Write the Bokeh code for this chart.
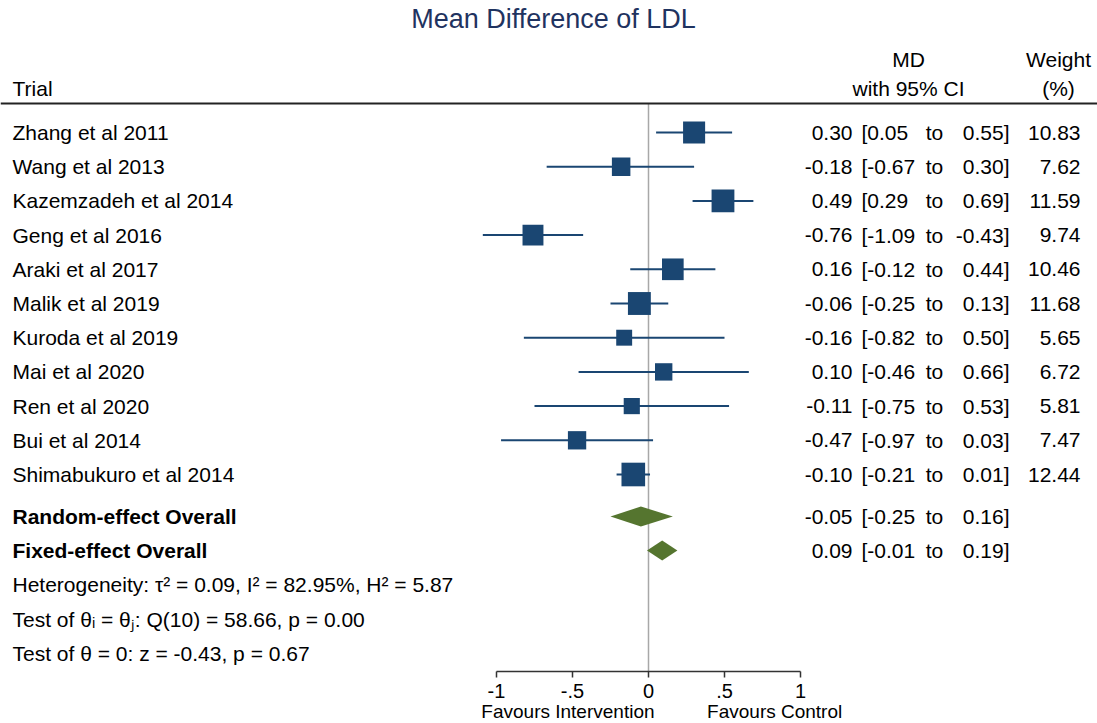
from bokeh.plotting import figure
from bokeh.models import Range1d, FixedTicker, Span, ColumnDataSource, LinearAxis
from bokeh.core.properties import value
from bokeh.embed import file_html
from bokeh.resources import INLINE

# ---------------- data ----------------
trials = ["Zhang et al 2011", "Wang et al 2013", "Kazemzadeh et al 2014", "Geng et al 2016",
          "Araki et al 2017", "Malik et al 2019", "Kuroda et al 2019", "Mai et al 2020",
          "Ren et al 2020", "Bui et al 2014", "Shimabukuro et al 2014"]
md = [0.30, -0.18, 0.49, -0.76, 0.16, -0.06, -0.16, 0.10, -0.11, -0.47, -0.10]
ci_lo = [0.05, -0.67, 0.29, -1.09, -0.12, -0.25, -0.82, -0.46, -0.75, -0.97, -0.21]
ci_hi = [0.55, 0.30, 0.69, -0.43, 0.44, 0.13, 0.50, 0.66, 0.53, 0.03, 0.01]
weight = [10.83, 7.62, 11.59, 9.74, 10.46, 11.68, 5.65, 6.72, 5.81, 7.47, 12.44]

overall_labels = ["Random-effect Overall", "Fixed-effect Overall"]
overall_md = [-0.05, 0.09]
overall_lo = [-0.25, -0.01]
overall_hi = [0.16, 0.19]

stats_lines = ["Heterogeneity: \u03c4\u00b2 = 0.09, I\u00b2 = 82.95%, H\u00b2 = 5.87",
               "Test of \u03b8\u1d62 = \u03b8\u2c7c: Q(10) = 58.66, p = 0.00",
               "Test of \u03b8 = 0: z = -0.43, p = 0.67"]

tick_values = [-1, -0.5, 0, 0.5, 1]
tick_labels = ["-1", "-.5", "0", ".5", "1"]
favours = ["Favours Intervention", "Favours Control"]
favours_at = [-0.53, 0.83]

title_text = "Mean Difference of LDL"

# ---------------- layout constants ----------------
W, H = 1097, 723
FRAME_H = 671            # bottom of plot frame = axis line
X0_PX, XSCALE = 648, 152  # pixel of MD=0, pixels per unit
ROW0_PX, ROW_PX = 132, 34.2

def rowpos(px):
    return (px - ROW0_PX) / ROW_PX

FONT = "Liberation Sans"
FS = "21px"
NAVY = "#1a4672"
GREEN = "#55752f"

x_start = (0 - X0_PX) / XSCALE
x_end = (W - X0_PX) / XSCALE

p = figure(frame_width=W, frame_height=FRAME_H, output_backend="svg", toolbar_location=None,
           x_range=Range1d(x_start, x_end),
           y_range=Range1d(rowpos(FRAME_H), rowpos(0)),
           y_axis_location=None, min_border_left=0, min_border_right=0,
           min_border_top=0, min_border_bottom=H - FRAME_H)
p.extra_x_ranges = {"px": Range1d(0, W)}
p.outline_line_color = None
p.xgrid.visible = False
p.ygrid.visible = False
p.background_fill_color = "white"
p.border_fill_color = "white"

rows = list(range(len(trials)))

# header line and zero line
header_y = rowpos(103)
p.add_layout(Span(location=header_y, dimension="width", line_color="#222222", line_width=2))
p.segment(x0=[0], y0=[header_y], x1=[0], y1=[rowpos(FRAME_H)], line_color="#a8a8a8", line_width=1.5)

# CI lines and squares
src = ColumnDataSource(dict(y=rows, md=md, lo=ci_lo, hi=ci_hi,
                            size=[6.7 * (w ** 0.5) for w in weight]))
p.segment(x0="lo", y0="y", x1="hi", y1="y", source=src, line_color=NAVY, line_width=2)
p.scatter(x="md", y="y", size="size", marker="square", source=src,
          fill_color=NAVY, line_color=None)

# overall diamonds
overall_rows = [rowpos(516), rowpos(550)]
half_h = 10 / ROW_PX
xs = [[lo, m, hi, m] for lo, m, hi in zip(overall_lo, overall_md, overall_hi)]
ys = [[r, r - half_h, r, r + half_h] for r in overall_rows]
p.patches(xs=xs, ys=ys, fill_color=GREEN, line_color=None)

def txt(x, y, t, align="left", size=FS, style="normal", color="black", rng="px"):
    p.text(x=x, y=y, text=t, text_align=align, text_baseline="middle",
           text_font=value(FONT), text_font_size=size, text_font_style=style,
           text_color=color, x_range_name=rng)

# title & headers
txt([553], [rowpos(18)], [title_text], align="center", size="27px", color="#1f3360")
txt([12], [rowpos(88)], ["Trial"])
txt([908, 908], [rowpos(59), rowpos(88)], ["MD", "with 95% CI"], align="center")
txt([1058, 1058], [rowpos(59), rowpos(88)], ["Weight", "(%)"], align="center")

# trial labels and columns
txt([12] * len(trials), rows, trials)
all_rows = rows + overall_rows
all_md = md + overall_md
all_lo = ci_lo + overall_lo
all_hi = ci_hi + overall_hi
n = len(all_rows)
txt([852] * n, all_rows, [f"{v:.2f}" for v in all_md], align="right")
txt([861] * n, all_rows, [f"[{v:.2f}" for v in all_lo])
txt([934] * n, all_rows, ["to"] * n, align="center")
txt([1009] * n, all_rows, [f"{v:.2f}]" for v in all_hi], align="right")
txt([1080] * len(rows), rows, [f"{v:.2f}" for v in weight], align="right")

# overall labels & stats
txt([12, 12], overall_rows, overall_labels, style="bold")
txt([12] * 3, [rowpos(584), rowpos(619), rowpos(653)], stats_lines)

# x axis
ax = p.xaxis[0]
ax.bounds = (-1, 1)
ax.ticker = FixedTicker(ticks=tick_values)
ax.major_label_overrides = {v: l for v, l in zip(tick_values, tick_labels)}
ax.minor_tick_line_color = None
ax.major_tick_out = 6
ax.major_tick_in = 0
ax.major_label_standoff = 6
ax.axis_line_color = "#333333"
ax.axis_line_width = 1.5
ax.major_tick_line_color = "#333333"
ax.major_tick_line_width = 1.5
ax.major_label_text_font = FONT
ax.major_label_text_font_size = "20px"
ax.major_label_text_color = "black"

# second axis carrying the "Favours" captions
ax2 = LinearAxis(ticker=FixedTicker(ticks=favours_at),
                 major_label_overrides={v: l for v, l in zip(favours_at, favours)})
ax2.axis_line_color = None
ax2.major_tick_line_color = None
ax2.minor_tick_line_color = None
ax2.major_tick_out = 0
ax2.major_tick_in = 0
ax2.major_label_standoff = 0
ax2.major_label_text_font = FONT
ax2.major_label_text_font_size = "19px"
ax2.major_label_text_color = "black"
p.add_layout(ax2, "below")

open("out.html", "w").write(file_html(p, INLINE))
